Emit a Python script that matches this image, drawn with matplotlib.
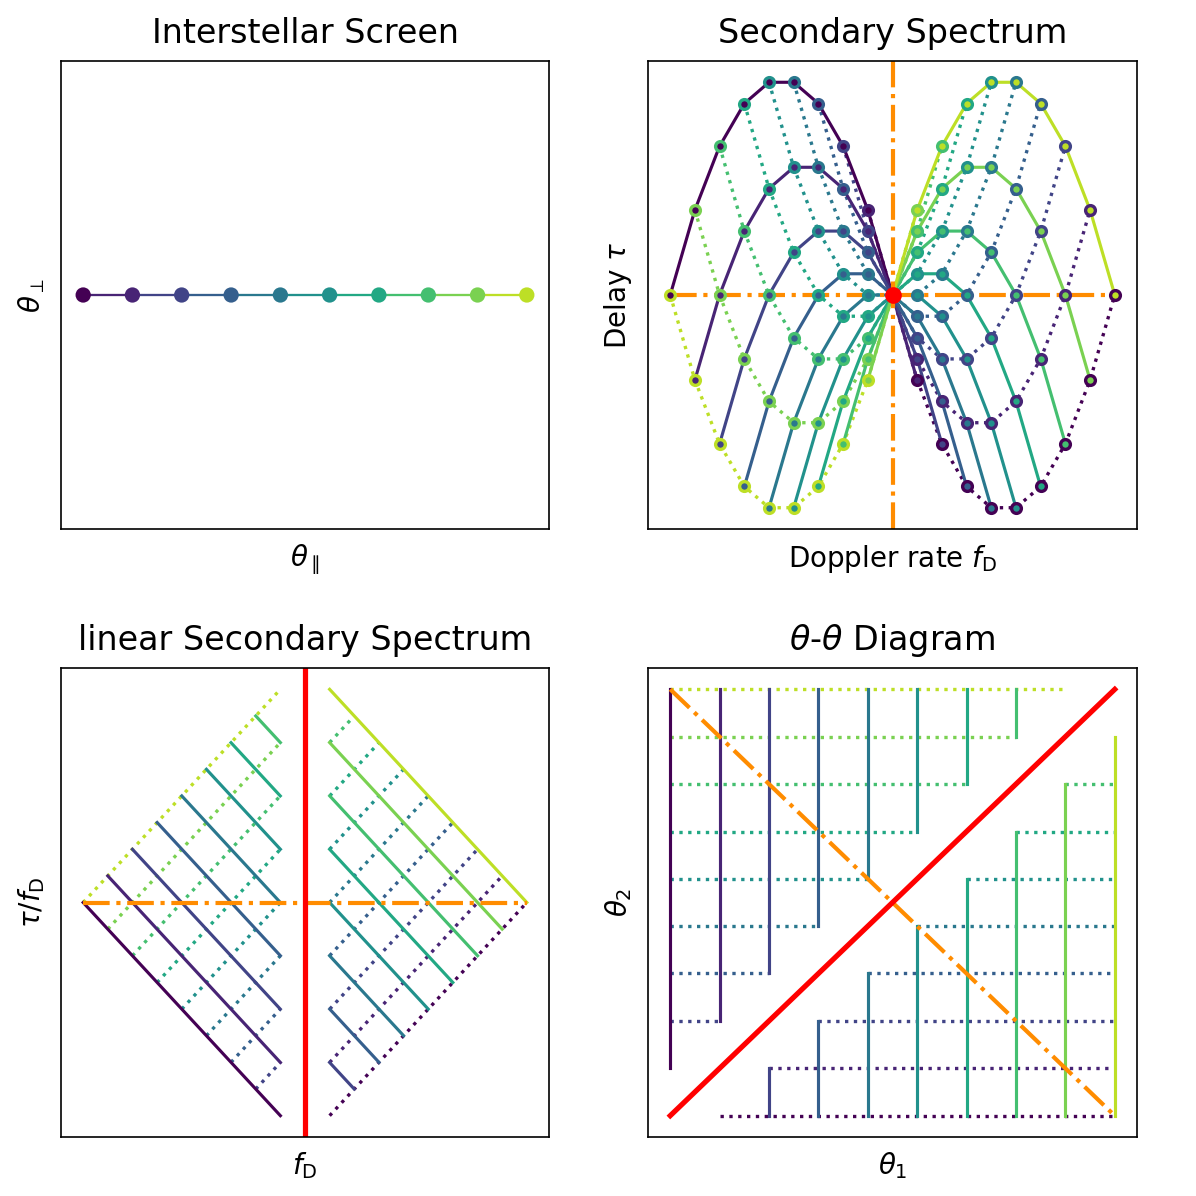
import numpy as np
import matplotlib
matplotlib.use('Agg')
import matplotlib.pyplot as plt

# screen image positions (theta_parallel), theta_perp is zero for all of them
theta_par = np.array([-1.0, -0.778, -0.556, -0.333, -0.111, 0.111, 0.333, 0.556, 0.778, 1.0])
theta_perp = np.array([0.0, 0.0, 0.0, 0.0, 0.0, 0.0, 0.0, 0.0, 0.0, 0.0])

titles = ['Interstellar Screen', 'Secondary Spectrum',
          'linear Secondary Spectrum', r'$\theta$-$\theta$ Diagram']
xlabels = [r'$\theta_\parallel$', r'Doppler rate $f_\mathrm{D}$',
           r'$f_\mathrm{D}$', r'$\theta_1$']
ylabels = [r'$\theta_\perp$', r'Delay $\tau$',
           r'$\tau/f_\mathrm{D}$', r'$\theta_2$']

N = len(theta_par)
cols = plt.cm.viridis(np.arange(N) / N)
orange = 'darkorange'

# th1 along rows (i), th2 along columns (j)
th1 = theta_par[:, None]
th2 = theta_par[None, :]
fD = th1 - th2
tau = th1**2 - th2**2
lin = th1 + th2 + 0 * fD  # tau / fD


def split(k):
    # indices below and above k (the diagonal is left out)
    return np.arange(0, k), np.arange(k + 1, N)


fig = plt.figure(figsize=(1196 / 150, 1196 / 150), dpi=150)
W = H = 1196.0
boxes = [(61, 61, 549, 529), (648, 61, 1137, 529),
         (61, 668, 549, 1137), (648, 668, 1137, 1137)]
axs = [fig.add_axes([x0 / W, 1 - y1 / H, (x1 - x0) / W, (y1 - y0) / H])
       for x0, y0, x1, y1 in boxes]

# --- interstellar screen
ax = axs[0]
for k in range(N - 1):
    ax.plot(theta_par[k:k + 2], theta_perp[k:k + 2], '-', color=cols[k + 1], lw=1.1)
ax.scatter(theta_par, theta_perp, c=cols, s=40, zorder=3)

# --- secondary spectrum
ax = axs[1]
for j in range(N):
    ax.plot(fD[:, j], tau[:, j], ':', color=cols[j], lw=1.6)
for i in range(N):
    ax.plot(fD[i, :], tau[i, :], '-', color=cols[i], lw=1.5)
ax.plot(2 * theta_par, 0 * theta_par, '-.', color=orange, lw=2, zorder=2.5)
ax.axvline(0, color=orange, ls='-.', lw=2, zorder=2.5)
for i in range(N):
    for j in range(N):
        if i != j:
            ax.scatter(fD[i, j], tau[i, j], s=22, facecolor=cols[i],
                       edgecolor=cols[j], linewidths=1.6, zorder=3)
ax.plot(0, 0, 'o', color='red', ms=7, zorder=4)

# --- linear secondary spectrum
ax = axs[2]
for j in range(N):
    for seg in split(j):
        if len(seg):
            ax.plot(fD[seg, j], lin[seg, j], ':', color=cols[j], lw=1.6)
for i in range(N):
    for seg in split(i):
        if len(seg):
            ax.plot(fD[i, seg], lin[i, seg], '-', color=cols[i], lw=1.5)
ax.plot(2 * theta_par, 0 * theta_par, '-.', color=orange, lw=2)
ax.axvline(0, color='red', lw=2.5)

# --- theta-theta diagram
ax = axs[3]
for j in range(N):
    for seg in split(j):
        if len(seg):
            ax.plot(theta_par[seg], np.full(len(seg), theta_par[j]), ':',
                    color=cols[j], lw=1.6)
for i in range(N):
    for seg in split(i):
        if len(seg):
            ax.plot(np.full(len(seg), theta_par[i]), theta_par[seg], '-',
                    color=cols[i], lw=1.5)
ax.plot(theta_par, -theta_par, '-.', color=orange, lw=2)
ax.plot(theta_par, theta_par, '-', color='red', lw=2.5)

for ax, t, xl, yl in zip(axs, titles, xlabels, ylabels):
    ax.set_title(t, fontsize=16, pad=8.5)
    ax.set_xlabel(xl, fontsize=13.3, labelpad=6.5)
    ax.set_ylabel(yl, fontsize=13.3, labelpad=6.5)
    ax.set_xticks([])
    ax.set_yticks([])

fig.savefig('out.png', dpi=150)
